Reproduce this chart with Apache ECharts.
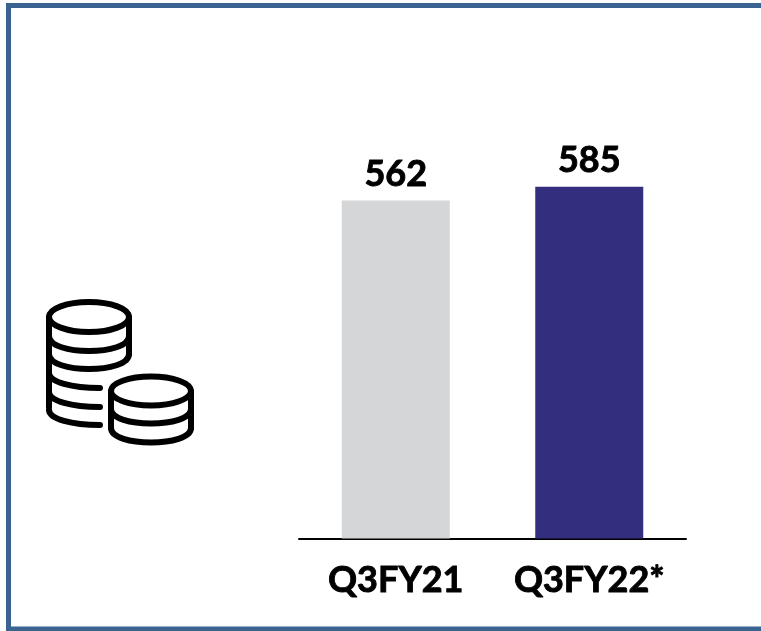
<!DOCTYPE html>
<html><head><meta charset="utf-8">
<style>html,body{margin:0;padding:0;background:#fff}#c{width:761px;height:631px}</style>
<script src="https://cdn.jsdelivr.net/npm/echarts@6/dist/echarts.min.js"></script>
</head><body><div id="c"></div>
<script>
const categories = ['Q3FY21', 'Q3FY22*'];
const values = [562, 585];
const barColors = ['#D5D6D8', '#332E7D'];

const chart = echarts.init(document.getElementById('c'), null, {renderer: 'canvas'});
const icon = {lineWidth: 6, stroke: '#000', fill: 'none', lineCap: 'round'};
const ell = (cx, cy, rx, ry) => ({type: 'ellipse', silent: true, shape: {cx, cy, rx, ry}, style: icon});
const line = (x1, y1, x2, y2) => ({type: 'line', silent: true, shape: {x1, y1, x2, y2}, style: icon});
const curve = (x1, y1, cpx1, cpy1, cpx2, cpy2, x2, y2) => ({type: 'bezierCurve', silent: true,
  shape: {x1, y1, cpx1, cpy1, cpx2, cpy2, x2, y2}, style: icon});
const fullArc = (l, r, y, ry) => curve(l, y, l, y + ry * 4 / 3, r, y + ry * 4 / 3, r, y);
const partArc = (l, r, y, ry) => curve(l, y, l, y + ry * 0.6, l + (r - l) * 0.45, y + ry, r, y + ry);
const iconParts = [
  ell(89, 317, 40, 15), line(49, 317, 49, 407), line(129, 317, 129, 354),
  fullArc(49, 129, 336, 15), fullArc(49, 129, 354, 15),
  partArc(49, 100, 373, 15), partArc(49, 100, 392, 15), partArc(49, 100, 410, 15),
  ell(151, 391, 40, 14.5), line(111, 391, 111, 428), line(191, 391, 191, 428),
  fullArc(111, 191, 409, 14.5), fullArc(111, 191, 428, 14.5)
];
const textStyle = {color: '#000', fontFamily: 'Lato', fontWeight: 'bold', fontSize: 36,
  textBorderColor: '#000', textBorderWidth: 0.9};
chart.setOption({
  animation: false,
  backgroundColor: '#fff',
  grid: {left: 299, width: 387, top: 57.5, height: 481},
  xAxis: {
    type: 'category', data: categories,
    axisLine: {lineStyle: {color: '#000', width: 2}},
    axisTick: {show: false},
    axisLabel: Object.assign({margin: 24, interval: 0, hideOverlap: false}, textStyle)
  },
  yAxis: {type: 'value', min: 0, max: 800, show: false, splitLine: {show: false}},
  series: [{
    type: 'bar', barWidth: 108,
    data: values.map((v, i) => ({value: v, itemStyle: {color: barColors[i]}})),
    label: Object.assign({show: true, position: 'top', distance: 8}, textStyle)
  }],
  graphic: [
    {type: 'rect', silent: true, shape: {x: 8.5, y: 5.5, width: 800, height: 623.5},
     style: {fill: 'none', stroke: '#3A6391', lineWidth: 5}}
  ].concat(iconParts)
});
</script></body></html>
